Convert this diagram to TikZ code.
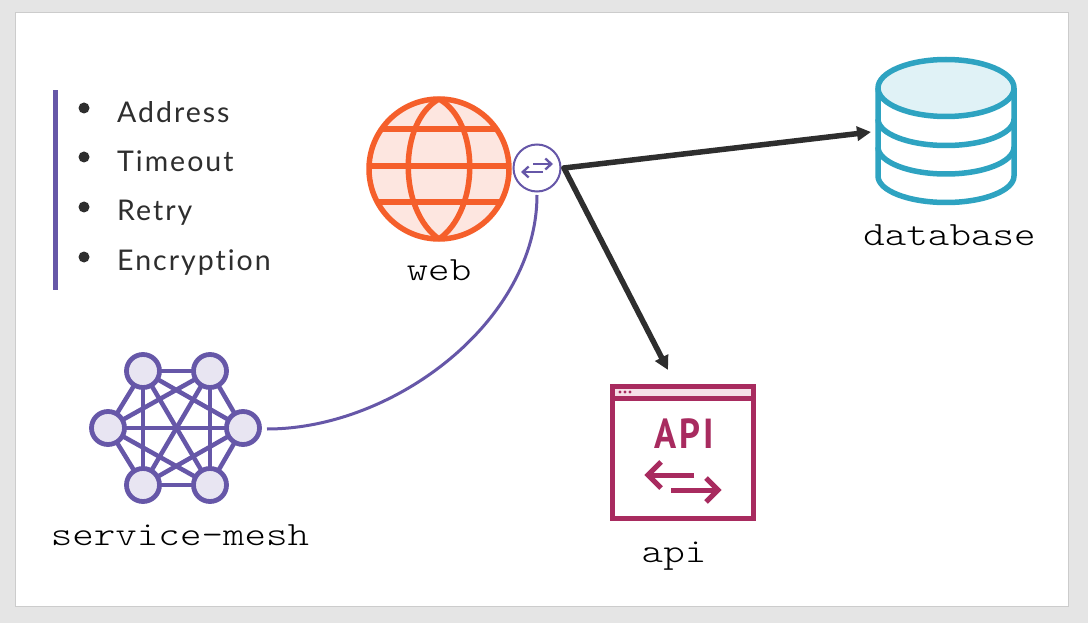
\documentclass[tikz,border=0pt]{standalone}
\usepackage{fontspec}
\usetikzlibrary{arrows.meta}
\setmainfont{Lato}
\newfontfamily\labelfont[FakeStretch=1.205]{Latin Modern Mono Light}
\newfontfamily\listfont[LetterSpace=7,Ligatures=NoCommon]{Lato}
\newfontfamily\apifont[LetterSpace=7,FakeStretch=0.87]{PT Sans}
\definecolor{mesh}{HTML}{6657A8}
\definecolor{meshfill}{HTML}{E8E5F2}
\definecolor{globe}{HTML}{F55F2B}
\definecolor{globefill}{HTML}{FDE6E0}
\definecolor{dbc}{HTML}{2EA3C1}
\definecolor{dbfill}{HTML}{E0F2F6}
\definecolor{apic}{HTML}{A82B5F}
\definecolor{apifill}{HTML}{F6DFE8}
\definecolor{ink}{HTML}{2E2E2E}
\tikzset{
  lbl/.style={anchor=base,inner sep=0pt,font=\labelfont\fontsize{34}{34}\selectfont,text=black},
  item/.style={anchor=base west,inner sep=0pt,font=\listfont\fontsize{28.5}{28.5}\selectfont,text=ink},
  bulletdot/.style={circle,fill=ink,inner sep=0pt,minimum size=11pt},
  meshnode/.style={circle,draw=mesh,fill=meshfill,line width=4.8pt,inner sep=0pt,minimum size=33pt},
  meshline/.style={draw=mesh,line width=4.5pt},
  globeline/.style={draw=globe,line width=5.5pt},
  dbline/.style={draw=dbc,line width=5.5pt,line join=round},
  apiline/.style={draw=apic,line width=5pt},
  flow/.style={draw=ink,line width=5.5pt,line cap=round,-{Triangle[length=14pt,width=14pt]}},
  link/.style={draw=mesh,line width=3pt},
  portarrow/.style={draw=mesh,line width=2.3pt,-{Straight Barb[length=6pt,width=11pt]}},
}
\begin{document}
\begin{tikzpicture}[x=1pt,y=-1pt]
\useasboundingbox (0,0) rectangle (1088,623);
\fill[fill=black!10] (0,0) rectangle (1088,623);
\draw[fill=white,draw=black!20,line width=1pt] (15,13) rectangle (1068,606);
% list
\fill[mesh] (53,90) rectangle (58,290);
\node[bulletdot] (b1) at (84,108) {};
\node[bulletdot] (b2) at (84,157) {};
\node[bulletdot] (b3) at (84,207) {};
\node[bulletdot] (b4) at (84,257) {};
\node[item] (t1) at (117,123) {Address};
\node[item] (t2) at (117,172) {Timeout};
\node[item] (t3) at (117,221) {Retry};
\node[item] (t4) at (117,270) {Encryption};
% globe
\fill[globefill] (439,169) circle (70);
\draw[globeline] (382,129) -- (496,129) (369,166) -- (509,166) (376,202) -- (502,202);
\draw[globeline] (439,99) .. controls (398,122) and (398,210) .. (439,239);
\draw[globeline] (439,99) .. controls (480,122) and (480,210) .. (439,239);
\draw[globeline] (439,169) circle (70);
\node[lbl] (web) at (439,280) {web};
% port
\node[circle,draw=mesh,fill=white,line width=2pt,inner sep=0pt,minimum size=47pt] (port) at (537,168) {};
\draw[portarrow] (533,164) -- (553,164);
\draw[portarrow] (543,172) -- (521,172);
% database
\draw[dbline,fill=white] (878,88) -- (878,176) arc[start angle=180,end angle=360,x radius=68pt,y radius=26.5pt] -- (1014,88);
\draw[dbline] (878,119) arc[start angle=180,end angle=360,x radius=68pt,y radius=26.5pt];
\draw[dbline] (878,147) arc[start angle=180,end angle=360,x radius=68pt,y radius=27pt];
\draw[dbline,fill=dbfill] (946,88) ellipse[x radius=68pt,y radius=28.5pt];
\node[lbl] (database) at (949.5,245) {database};
% mesh
\coordinate (m1) at (143,371);
\coordinate (m2) at (210,371);
\coordinate (m3) at (108,428);
\coordinate (m4) at (243,428);
\coordinate (m5) at (143,485);
\coordinate (m6) at (210,485);
\foreach \a/\b in {m1/m2,m1/m3,m1/m4,m1/m5,m1/m6,m2/m3,m2/m4,m2/m5,m2/m6,m3/m4,m3/m5,m3/m6,m4/m5,m4/m6,m5/m6}
  \draw[meshline] (\a) -- (\b);
\node[meshnode] (n1) at (m1) {};
\node[meshnode] (n2) at (m2) {};
\node[meshnode] (n3) at (m3) {};
\node[meshnode] (n4) at (m4) {};
\node[meshnode] (n5) at (m5) {};
\node[meshnode] (n6) at (m6) {};
\node[lbl] (svc) at (180,545) {service-mesh};
% api
\draw[apiline,fill=white] (612,386) rectangle (753,518);
\draw[apiline,fill=apifill] (612,386) rectangle (753,398.5);
\fill[apic] (620,392) circle (1.7) (625,392) circle (1.7) (630,392) circle (1.7);
\node[inner sep=0pt,anchor=base,text=apic,font=\apifont\bfseries\fontsize{42}{42}\selectfont] (apitxt) at (684,448) {API};
\draw[apiline] (694,475) -- (649,475);
\draw[apiline] (661,462) -- (648,475) -- (661,488);
\draw[apiline] (671,490) -- (717,490);
\draw[apiline] (706,478) -- (718,490) -- (706,502);
\node[lbl] (api) at (674,562) {api};
% connectors
\coordinate (out) at (564,168);
\coordinate (dbin) at (871,132);
\coordinate (apiin) at (668,370);
\coordinate (meshout) at (267,429);
\coordinate (portout) at (537,195);
\draw[flow] (out) -- (dbin);
\draw[flow] (out) -- (apiin);
\draw[link] (portout) .. controls (537,320) and (395,429) .. (meshout);
\end{tikzpicture}
\end{document}
